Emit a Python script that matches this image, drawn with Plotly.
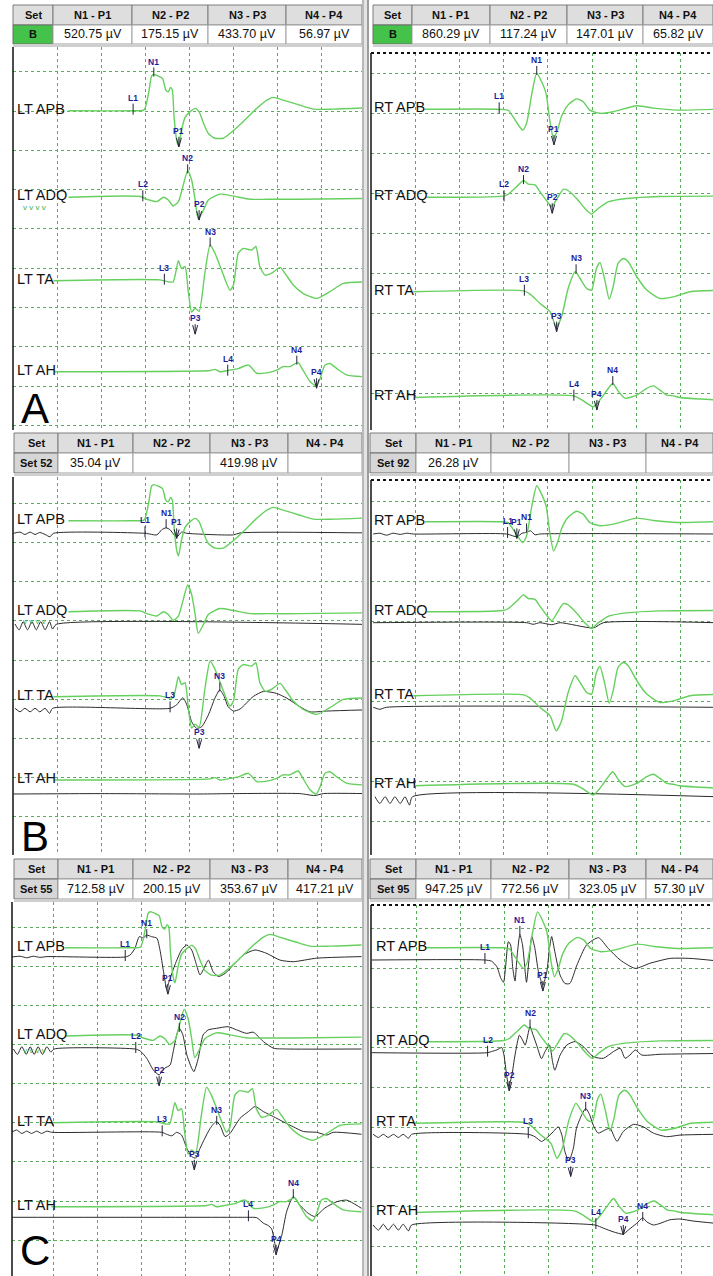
import plotly.graph_objects as go

W, H = 713, 1276
FONT = "Liberation Sans, Arial, sans-serif"

# ---------------- data ----------------
CHANNELS = ["APB", "ADQ", "TA", "AH"]
TABLE_COLS = ["Set", "N1 - P1", "N2 - P2", "N3 - P3", "N4 - P4"]

A_LT_SET, A_LT_VALS = "B", ["520.75 µV", "175.15 µV", "433.70 µV", "56.97 µV"]
A_RT_SET, A_RT_VALS = "B", ["860.29 µV", "117.24 µV", "147.01 µV", "65.82 µV"]
B_LT_SET, B_LT_VALS = "Set 52", ["35.04 µV", "", "419.98 µV", ""]
B_RT_SET, B_RT_VALS = "Set 92", ["26.28 µV", "", "", ""]
C_LT_SET, C_LT_VALS = "Set 55", ["712.58 µV", "200.15 µV", "353.67 µV", "417.21 µV"]
C_RT_SET, C_RT_VALS = "Set 95", ["947.25 µV", "772.56 µV", "323.05 µV", "57.30 µV"]

# waveforms: (time ms, amplitude in grid divisions)
G_LT_APB = [(12.6,0),(27.3,0),(29.8,0.02),(30.8,0.44),(31.5,0.88),(32.0,0.92),(33.0,0.88),(34.0,0.82),(34.7,0.53),(35.3,0.48),(35.8,0.59),(36.2,0.53),(36.6,-0.15),(37.2,-0.75),(37.6,-0.90),(38.3,-0.49),(39.1,-0.17),(40.2,-0.03),(41.4,0.06),(42.3,-0.03),(43.3,-0.32),(44.4,-0.58),(45.9,-0.70),(47.8,-0.70),(49.3,-0.58),(52.3,-0.28),(55.4,0.06),(57.7,0.27),(59.2,0.34),(61.4,0.27),(65.2,0.14),(68.3,0.04),(72.8,0.04),(80,0.07)]
G_LT_ADQ = [(12.6,0),(28.9,0.02),(30.4,-0.05),(32.7,-0.11),(34.2,0),(35.3,-0.07),(36.4,-0.22),(37.6,-0.11),(38.6,0.27),(39.7,0.68),(40.6,0.44),(41.4,-0.07),(42.1,-0.55),(43.3,-0.32),(44.4,-0.07),(47.0,0.08),(50.1,0.03),(53.9,-0.05),(57.7,-0.05),(65.2,-0.05),(80,-0.03)]
G_LT_TA = [(9.2,0),(33.4,0.02),(35.3,-0.03),(36.4,-0.03),(37.6,0.51),(38.3,0.31),(39.1,0.36),(39.8,-0.24),(40.6,-0.80),(41.4,-0.70),(42.3,-0.78),(43.6,0.19),(44.8,0.91),(45.9,0.70),(47.4,0.27),(49.3,-0.24),(50.1,-0.11),(51.2,0.70),(52.3,0.82),(54.2,0.78),(55.2,0.87),(56.1,0.36),(57.3,0.14),(58.8,0.19),(60.7,0.34),(61.8,0.19),(63.7,-0.11),(65.9,-0.32),(69.0,-0.45),(72.0,-0.28),(75.1,-0.07),(80,-0.03)]
G_LT_AH = [(9.5,0),(44.8,0.03),(45.9,0.06),(47.0,0),(49.3,0.04),(51.2,0.08),(53.5,0.17),(55.4,-0.04),(57.7,-0.03),(59.9,0.04),(61.4,0.13),(62.9,0.13),(64.8,0.23),(65.9,0.04),(67.5,-0.25),(68.9,-0.36),(69.8,-0.17),(70.9,0.17),(72.0,0.21),(73.6,0.08),(75.8,-0.08),(80,-0.13)]
G_RT_APB = [(12.2,0),(29.2,0),(31.1,-0.03),(32.6,-0.27),(34.3,-0.52),(35.2,-0.35),(36.4,0.40),(37.5,0.90),(38.6,0.69),(39.6,0.40),(40.5,-0.31),(41.3,-0.73),(42.2,-0.52),(43.1,-0.18),(44.6,0.11),(46.5,0.26),(48.0,0.19),(49.5,-0.02),(51.8,-0.10),(54.8,-0.06),(60.1,0.09),(63.9,0.03),(69.2,-0.02),(78,0)]
G_RT_ADQ = [(12.6,0),(29.9,0.03),(31.1,0.08),(33.0,0.27),(34.5,0.42),(35.6,0.33),(37.1,0.31),(38.2,0.14),(39.7,-0.08),(40.9,-0.23),(42.0,-0.05),(43.5,0.20),(44.6,0.17),(46.5,-0.03),(48.4,-0.28),(49.9,-0.42),(51.4,-0.28),(53.8,-0.11),(57.9,-0.03),(65.4,0.02),(78,0.03)]
G_RT_TA = [(9.6,0),(34.5,0.02),(36.0,-0.06),(38.2,-0.29),(40.5,-0.50),(41.9,-0.88),(43.1,-0.63),(44.6,0.08),(46.2,0.50),(47.3,0.33),(48.8,0.08),(49.9,0.04),(51.0,0.58),(51.8,0.73),(52.9,0.29),(53.9,-0.19),(54.8,0.13),(55.9,0.71),(57.1,0.83),(58.2,0.75),(60.1,0.38),(62.4,0.04),(65.4,-0.17),(68.4,-0.13),(72.2,0),(78,0.03)]
G_RT_AH = [(10.0,-0.02),(45.8,0.02),(47.7,-0.08),(50.3,-0.25),(51.8,-0.08),(53.7,0.21),(54.7,0.33),(56.0,0.13),(57.5,-0.04),(60.1,0.04),(62.4,0.21),(63.9,0.27),(65.8,0.13),(66.9,0.04),(68.4,0.02),(69.9,-0.02),(78,-0.08)]

K_B_LT_APB = [(0.1,0),(1.6,0.03),(2.7,-0.03),(3.9,0.03),(5.0,-0.03),(6.1,0.02),(7.3,-0.03),(8.4,-0.09),(9.2,0),(30.0,0),(32.7,-0.04),(33.8,0.09),(34.8,0.14),(35.7,0.09),(36.6,-0.04),(37.3,-0.09),(38.3,0.03),(39.5,0),(50.1,-0.04),(51.6,0.01),(80,0.01)]
K_B_LT_ADQ = [(0.45,0),(1.4,-0.15),(2.3,0.06),(3.3,-0.15),(4.3,0.06),(5.3,-0.15),(6.3,0.06),(7.3,-0.15),(8.3,0.06),(9.0,-0.13),(9.8,-0.01),(80,-0.01)]
K_B_LT_TA = [(0.45,0),(1.6,-0.09),(2.7,0),(3.9,-0.09),(5.0,0),(6.1,-0.09),(7.3,0),(8.3,-0.13),(9.0,0),(35.7,0),(37.2,0.09),(38.6,0.27),(39.5,0.09),(40.6,-0.34),(41.7,-0.51),(42.9,-0.47),(44.4,-0.17),(45.9,0.26),(47.0,0.47),(48.0,0.30),(48.9,0.04),(50.1,-0.07),(51.6,-0.02),(54.6,0.30),(56.9,0.43),(59.9,0.38),(62.2,0.26),(65.2,0.04),(67.5,-0.09),(71.3,-0.07),(80,-0.04)]
K_B_LT_AH = [(0.1,0),(19.8,0.01),(42.5,0),(50.1,0.01),(65.2,0.01),(68.6,-0.04),(70.5,0.01),(80,0.01)]
K_B_RT_APB = [(0.5,0),(2.0,0.02),(3.5,-0.03),(5.0,0.02),(6.6,-0.01),(8.1,0.02),(9.6,0),(30.7,0),(33.0,-0.07),(34.2,0.02),(35.2,0.04),(36.1,0.08),(37.1,-0.02),(38.2,0),(78,0)]
K_B_RT_ADQ = [(0.5,0),(35.2,0),(36.7,-0.04),(38.2,0),(40.9,-0.05),(42.8,0),(50.3,-0.13),(52.6,0),(78,0)]
K_B_RT_TA = [(0.5,0),(2.0,-0.05),(3.5,0),(78,0)]
K_B_RT_AH = [(0.9,0),(2.0,-0.17),(3.2,0),(4.3,-0.17),(5.4,0),(6.6,-0.17),(7.7,0),(8.7,-0.21),(9.4,0),(78,0)]

K_C_LT_APB = [(0.5,0),(2.4,0.02),(3.9,-0.02),(5.4,0.02),(6.9,-0.01),(8.5,0.01),(26.3,0),(27.4,0.05),(28.5,0.22),(29.5,0.52),(30.4,0.49),(31.2,0.56),(32.3,0.52),(33.5,0.48),(34.2,0.18),(35.0,-0.37),(35.7,-0.78),(36.5,-0.55),(37.6,-0.20),(39.1,0.18),(40.3,0.31),(41.4,0.18),(42.5,-0.20),(43.3,-0.46),(44.2,-0.29),(45.2,-0.08),(46.3,-0.38),(47.5,-0.50),(49.0,-0.42),(50.9,-0.20),(53.1,0.05),(55.8,0.18),(58.5,0.09),(61.5,-0.08),(64.5,-0.12),(69.8,-0.03),(80,0.01)]
K_C_LT_ADQ = [(0.9,0),(1.8,-0.14),(2.8,0.06),(3.8,-0.14),(4.7,0.06),(5.6,-0.14),(6.5,0.06),(7.5,-0.14),(8.5,0.06),(9.4,-0.08),(10.1,0),(28.5,0),(29.7,-0.05),(31.2,-0.24),(32.7,-0.54),(34.0,-0.66),(35.3,-0.49),(36.5,-0.41),(37.2,-0.07),(38.0,0.36),(38.6,0.53),(39.4,0.36),(40.3,-0.15),(41.4,-0.49),(41.9,-0.58),(42.9,-0.24),(44.0,0.36),(45.2,0.49),(47.1,0.53),(49.7,0.57),(51.6,0.49),(53.9,0.40),(55.4,0.43),(57.7,0.19),(60.0,0.02),(63.0,0),(80,0)]
K_C_LT_TA = [(0.5,0),(1.6,0.06),(2.8,-0.03),(3.9,0.03),(5.0,-0.03),(6.2,0.03),(7.3,-0.03),(8.5,0.03),(9.6,0),(34.6,0),(35.7,-0.05),(36.9,-0.09),(38.0,0),(39.1,-0.07),(40.3,-0.41),(41.4,-0.62),(42.3,-0.66),(43.3,-0.41),(44.4,-0.15),(45.6,0.10),(46.9,0.27),(47.8,0.19),(49.0,-0.11),(50.1,-0.03),(52.4,0.36),(54.3,0.53),(55.8,0.66),(57.7,0.53),(60.0,0.40),(62.2,0.27),(64.5,0.14),(66.8,0.02),(69.8,0),(72.1,-0.07),(73.6,0),(80,-0.05)]
K_C_LT_AH = [(0.5,0),(52.4,0),(54.3,0),(56.2,-0.01),(57.7,-0.15),(58.8,-0.21),(59.6,-0.30),(60.1,-0.55),(60.7,-0.85),(61.9,-0.45),(63.0,0.15),(64.5,0.53),(66.0,0.31),(67.9,0.10),(69.4,0.02),(71.7,0.24),(74.4,0.40),(76.6,0.44),(78.1,0.36),(80,0.23)]
K_C_RT_APB = [(0,0),(25.6,0),(27.1,-0.03),(28.3,-0.17),(29.2,-0.46),(29.8,-0.56),(30.3,-0.13),(30.9,0.46),(31.4,0.38),(31.9,-0.21),(32.4,-0.53),(32.9,0.13),(33.5,0.64),(34.1,0.38),(34.7,-0.29),(35.0,-0.56),(35.6,0.04),(36.2,0.59),(36.9,0.29),(37.7,-0.29),(38.7,-0.63),(39.6,-0.29),(40.2,0.29),(40.7,0.59),(41.4,0.21),(42.6,-0.38),(43.7,-0.59),(44.8,-0.59),(46.4,-0.13),(48.6,0.38),(51.3,0.56),(53.5,0.29),(56.2,0),(59.6,-0.21),(63.0,-0.08),(67.5,0.04),(72.0,0.04),(78,-0.02)]
K_C_RT_ADQ = [(0,0),(26.2,0),(27.1,0.03),(28.3,0.07),(29.4,0.13),(29.9,-0.06),(30.5,-0.56),(31.0,-0.85),(31.7,-0.56),(32.4,-0.06),(33.4,0.44),(34.1,0.32),(34.7,0.19),(35.8,0.65),(36.5,0.44),(37.3,0.19),(38.4,-0.15),(39.2,0.03),(40.2,0.19),(40.9,-0.23),(41.4,-0.44),(42.6,-0.06),(44.1,0.19),(46.0,0.28),(47.9,0.15),(50.1,-0.10),(52.4,-0.14),(54.7,0.03),(56.2,0.11),(57.3,-0.14),(58.4,-0.06),(59.6,0.07),(61.1,-0.06),(65.2,-0.04),(78,-0.02)]
K_C_RT_TA = [(0.3,0),(1.5,-0.08),(2.6,0),(3.7,-0.08),(4.9,0),(6.0,-0.08),(7.1,0),(8.3,-0.10),(9.0,0),(35.4,0),(36.9,-0.06),(38.4,-0.18),(39.5,-0.10),(41.1,0.07),(42.2,0.19),(43.0,-0.02),(43.7,-0.44),(44.6,-0.67),(45.6,-0.35),(46.3,0.15),(47.5,0.49),(48.4,0.65),(49.3,0.49),(50.1,0.23),(51.2,0.03),(52.8,0.11),(53.9,0.15),(55.0,-0.10),(55.5,-0.18),(56.9,0.07),(59.2,0.25),(61.4,0.19),(63.7,0.03),(66.7,-0.06),(69.7,-0.02),(78,0)]
K_C_RT_AH = [(0.3,0),(1.5,-0.13),(2.6,0.02),(3.7,-0.13),(4.9,0.02),(6.0,-0.13),(7.1,0.02),(8.3,-0.15),(9.0,0),(50.5,0),(52.4,-0.08),(54.6,-0.17),(56.9,-0.23),(58.0,-0.13),(59.9,0.04),(61.3,0.18),(62.2,0.08),(63.7,0),(65.2,0.04),(67.4,0.13),(69.7,0.15),(72.7,0.10),(78,0.04)]

# markers: (channel index, kind, label, time ms, amplitude div)
MK_A_LT = [(0,'L','L1',27.3,0),(0,'N','N1',32.0,0.87),(0,'P','P1',37.7,-0.92),(1,'L','L2',29.5,0),(1,'N','N2',39.7,0.61),(1,'P','P2',42.3,-0.58),(2,'L','L3',34.4,0),(2,'N','N3',44.8,0.87),(2,'P','P3',41.4,-1.36),(3,'L','L4',48.8,0),(3,'N','N4',64.5,0.18),(3,'P','P4',69.0,-0.42)]
MK_A_RT = [(0,'L','L1',29.0,0),(0,'N','N1',37.5,0.86),(0,'P','P1',41.4,-0.89),(1,'L','L2',30.1,0),(1,'N','N2',34.5,0.33),(1,'P','P2',41.0,-0.40),(2,'L','L3',34.7,0),(2,'N','N3',46.4,0.46),(2,'P','P3',42.0,-1.0),(3,'L','L4',45.9,0),(3,'P','P4',51.1,-0.33),(3,'N','N4',54.7,0.29)]
MK_B_LT = [(0,'L','L1',30.0,0),(0,'N','N1',34.8,0.13),(0,'P','P1',37.2,-0.13),(2,'L','L3',35.7,0),(2,'N','N3',47.0,0.43),(2,'P','P3',42.3,-1.02)]
MK_B_RT = [(0,'L','L1',30.9,0),(0,'P','P1',33.0,-0.11),(0,'N','N1',35.2,0.04)]
MK_C_LT = [(0,'L','L1',26.3,0),(0,'N','N1',31.2,0.48),(0,'P','P1',36.0,-0.95),(1,'L','L2',28.7,0),(1,'N','N2',38.6,0.44),(1,'P','P2',34.0,-0.94),(2,'L','L3',34.7,0),(2,'N','N3',47.1,0.19),(2,'P','P3',42.0,-0.96),(3,'L','L4',54.3,0),(3,'N','N4',64.5,0.49),(3,'P','P4',60.6,-0.96)]
MK_C_RT = [(0,'L','L1',25.6,0),(0,'N','N1',33.5,0.63),(0,'P','P1',38.7,-0.78),(1,'L','L2',26.2,0),(1,'N','N2',35.8,0.61),(1,'P','P2',31.1,-0.96),(2,'L','L3',35.4,0),(2,'N','N3',48.4,0.59),(2,'P','P3',45.0,-1.06),(3,'L','L4',50.7,0),(3,'P','P4',56.9,-0.25),(3,'N','N4',61.3,0.10)]

GREEN_LT = [G_LT_APB, G_LT_ADQ, G_LT_TA, G_LT_AH]
GREEN_RT = [G_RT_APB, G_RT_ADQ, G_RT_TA, G_RT_AH]
BLACK_B_LT = [K_B_LT_APB, K_B_LT_ADQ, K_B_LT_TA, K_B_LT_AH]
BLACK_B_RT = [K_B_RT_APB, K_B_RT_ADQ, K_B_RT_TA, K_B_RT_AH]
BLACK_C_LT = [K_C_LT_APB, K_C_LT_ADQ, K_C_LT_TA, K_C_LT_AH]
BLACK_C_RT = [K_C_RT_APB, K_C_RT_ADQ, K_C_RT_TA, K_C_RT_AH]

# ---------------- layout (pixels) ----------------
LT_COLS_A = [13, 53, 132, 208, 286, 362]
RT_COLS_A = [373, 412, 490, 567, 643, 713]
LT_COLS = [14, 58, 133, 210, 288, 362]
RT_COLS = [370, 416, 491, 569, 646, 713]

PANELS = [
    dict(side="LT", box=(13, 362, 47, 430), g=(13, 44, 71.7, 39.3), gb=[110.7, 197.3, 280.7, 371.7], kb=None,
         green=GREEN_LT, black=None, marks=MK_A_LT, labx=15),
    dict(side="RT", box=(371, 713, 53, 430), g=(371, 44.2, 73.3, 40), gb=[109.3, 197.3, 291.7, 396.7], kb=None,
         green=GREEN_RT, black=None, marks=MK_A_RT, labx=372),
    dict(side="LT", box=(13, 362, 477, 855), g=(13, 44, 503.3, 39.2), gb=[520.7, 611.7, 696.7, 780], kb=[533.3, 624, 708.3, 794],
         green=GREEN_LT, black=BLACK_B_LT, marks=MK_B_LT, labx=15),
    dict(side="RT", box=(371, 713, 480, 855), g=(371, 44.2, 501.7, 40), gb=[521.7, 611.7, 695.7, 785], kb=[534, 622.7, 707.3, 796.7],
         green=GREEN_RT, black=BLACK_B_RT, marks=MK_B_RT, labx=372),
    dict(side="LT", box=(12, 362, 902, 1276), g=(9.5, 44, 927.3, 39.1), gb=[947.7, 1036, 1122.7, 1206.7], kb=[957, 1049, 1132.3, 1217.3],
         green=GREEN_LT, black=BLACK_C_LT, marks=MK_C_LT, labx=15),
    dict(side="RT", box=(371, 713, 905, 1276), g=(371.8, 44.2, 928.3, 39.8), gb=[947.7, 1041.7, 1123.3, 1211.7], kb=[960, 1052.7, 1134.3, 1225],
         green=GREEN_RT, black=BLACK_C_RT, marks=MK_C_RT, labx=374),
]

GRID = "#5aac5a"
GREEN = "#66d05e"
BLACK = "#2b2b2b"
NAVY = "#1d1d9a"


def X(px):
    return px / W


def Y(py):
    return 1 - py / H


def txt(x, y, text, size, color="#111", xref="paper", yref="paper", xanchor="center", yanchor="middle", **kw):
    d = dict(x=x, y=y, xref=xref, yref=yref, text=text, showarrow=False, xanchor=xanchor, yanchor=yanchor,
             font=dict(family=FONT, size=size, color=color))
    d.update(kw)
    return d


fig = go.Figure()
shapes, annos = [], []
layout_axes = {}

for i, p in enumerate(PANELS, start=1):
    x0, x1, y0, y1 = p["box"]
    gx0, dx, gy0, dy = p["g"]
    xs = "" if i == 1 else str(i)
    xr, yr = "x" + xs, "y" + xs
    layout_axes["xaxis" + xs] = dict(
        domain=[X(x0), X(x1)], range=[(x0 - gx0) / dx * 10, (x1 - gx0) / dx * 10],
        anchor=yr, showgrid=True, gridcolor=GRID, griddash="dot", gridwidth=1,
        tick0=0, dtick=10, showticklabels=False, ticks="", zeroline=False, showline=False, fixedrange=True)
    layout_axes["yaxis" + xs] = dict(
        domain=[Y(y1), Y(y0)], range=[(gy0 - y1) / dy, (gy0 - y0) / dy],
        anchor=xr, showgrid=True, gridcolor=GRID, griddash="dot", gridwidth=1,
        tick0=0, dtick=1, showticklabels=False, ticks="", zeroline=False, showline=False, fixedrange=True)

    def ub(py):
        return (gy0 - py) / dy

    if p["black"] is not None:
        for c, wave in enumerate(p["black"]):
            base = ub(p["kb"][c])
            fig.add_trace(go.Scatter(x=[t for t, a in wave], y=[base + a for t, a in wave],
                                     xaxis=xr, yaxis=yr, mode="lines", hoverinfo="skip",
                                     line=dict(color=BLACK, width=1, shape="spline", smoothing=0.6)))
    for c, wave in enumerate(p["green"]):
        base = ub(p["gb"][c])
        fig.add_trace(go.Scatter(x=[t for t, a in wave], y=[base + a for t, a in wave],
                                 xaxis=xr, yaxis=yr, mode="lines", hoverinfo="skip",
                                 line=dict(color=GREEN, width=1.4, shape="spline", smoothing=0.6)))
        annos.append(txt(X(p["labx"]), base, f"{p['side']} {CHANNELS[c]}", 14.5, yref=yr,
                         xanchor="left", yshift=2))

    mb = p["kb"] if p["kb"] is not None else p["gb"]
    for c, kind, lab, t, a in p["marks"]:
        yv = ub(mb[c]) + a
        lc = dict(color="#23233a", width=1)
        if kind == "L":
            shapes.append(dict(type="line", xref=xr, yref=yr, x0=t, x1=t, ysizemode="pixel", yanchor=yv,
                               y0=-4, y1=7, line=lc))
            ysh = 13
        elif kind == "N":
            shapes.append(dict(type="line", xref=xr, yref=yr, x0=t, x1=t, ysizemode="pixel", yanchor=yv,
                               y0=0, y1=9, line=lc))
            ysh = 15
        else:
            shapes.append(dict(type="line", xref=xr, yref=yr, x0=t, x1=t, ysizemode="pixel", yanchor=yv,
                               y0=0, y1=10, line=lc))
            for sx in (-2.5, 2.5):
                shapes.append(dict(type="line", xref=xr, yref=yr, xsizemode="pixel", xanchor=t, x0=0, x1=sx,
                                   ysizemode="pixel", yanchor=yv, y0=0, y1=9, line=lc))
            ysh = 16
        annos.append(txt(t, yv, f"<b>{lab}</b>", 8.5, NAVY, xref=xr, yref=yr, yshift=ysh))

    shapes.append(dict(type="line", xref="paper", yref="paper", x0=X(x0), x1=X(x0), y0=Y(y0), y1=Y(y1),
                       line=dict(color="#111", width=1.5)))
    if p["side"] == "RT":
        shapes.append(dict(type="line", xref="paper", yref="paper", x0=X(x0), x1=X(x1), y0=Y(y0), y1=Y(y0),
                           line=dict(color="#111", width=2, dash="dot")))


def rect(x0, y0, x1, y1, fill, lc="#8a8a8a", lw=1):
    return dict(type="rect", xref="paper", yref="paper", x0=X(x0), x1=X(x1), y0=Y(y1), y1=Y(y0),
                fillcolor=fill, line=dict(color=lc, width=lw), layer="above")


def table(cols, rows, set_lab, set_fill, vals):
    for j in range(5):
        shapes.append(rect(cols[j], rows[0], cols[j + 1], rows[1], "#dedede", "#7d7d7d"))
        annos.append(txt(X((cols[j] + cols[j + 1]) / 2), Y((rows[0] + rows[1]) / 2),
                         f"<b>{TABLE_COLS[j]}</b>", 11))
    shapes.append(rect(cols[0], rows[1], cols[1], rows[2], set_fill, "#6d6d6d"))
    annos.append(txt(X((cols[0] + cols[1]) / 2), Y((rows[1] + rows[2]) / 2), f"<b>{set_lab}</b>", 11))
    for j in range(4):
        shapes.append(rect(cols[j + 1], rows[1], cols[j + 2], rows[2], "white", "#a0a0a0"))
        annos.append(txt(X((cols[j + 1] + cols[j + 2]) / 2), Y((rows[1] + rows[2]) / 2), vals[j], 12.5))
    shapes.append(rect(cols[0], rows[2], cols[-1], rows[2] + 3, "#cfcfcf", "#cfcfcf", 0))


table(LT_COLS_A, [5, 25, 44], A_LT_SET, "#45c24a", A_LT_VALS)
table(RT_COLS_A, [5, 25, 44], A_RT_SET, "#45c24a", A_RT_VALS)
table(LT_COLS, [433, 453, 473], B_LT_SET, "#d6d6d6", B_LT_VALS)
table(RT_COLS, [433, 453, 473], B_RT_SET, "#d6d6d6", B_RT_VALS)
table(LT_COLS, [859, 879, 899], C_LT_SET, "#d6d6d6", C_LT_VALS)
table(RT_COLS, [859, 879, 899], C_RT_SET, "#d6d6d6", C_RT_VALS)

shapes.append(rect(362, 0, 369, H, "#e4e4e4", "#e4e4e4", 0))
shapes.append(dict(type="line", xref="paper", yref="paper", x0=X(363), x1=X(363), y0=0, y1=1,
                   line=dict(color="#8c8c8c", width=1)))
shapes.append(dict(type="line", xref="paper", yref="paper", x0=X(368), x1=X(368), y0=0, y1=1,
                   line=dict(color="#555", width=1)))

for py in (208, 621, 1050):
    annos.append(txt(X(21), Y(py), "v v v v", 8, "#3fae3f", xanchor="left"))
for letter, py in (("A", 408), ("B", 836)):
    annos.append(txt(X(19), Y(py), letter, 42, "#000", xanchor="left"))
annos.append(txt(X(18), 0, "C", 42, "#000", xanchor="left", yanchor="bottom"))

fig.update_layout(width=W, height=H, margin=dict(l=0, r=0, t=0, b=0), paper_bgcolor="white",
                  plot_bgcolor="white", showlegend=False, shapes=shapes, annotations=annos, **layout_axes)
fig.write_html("out.html", config={"displayModeBar": False},
               post_script="document.body.style.margin='0px';document.body.style.overflow='hidden';")
